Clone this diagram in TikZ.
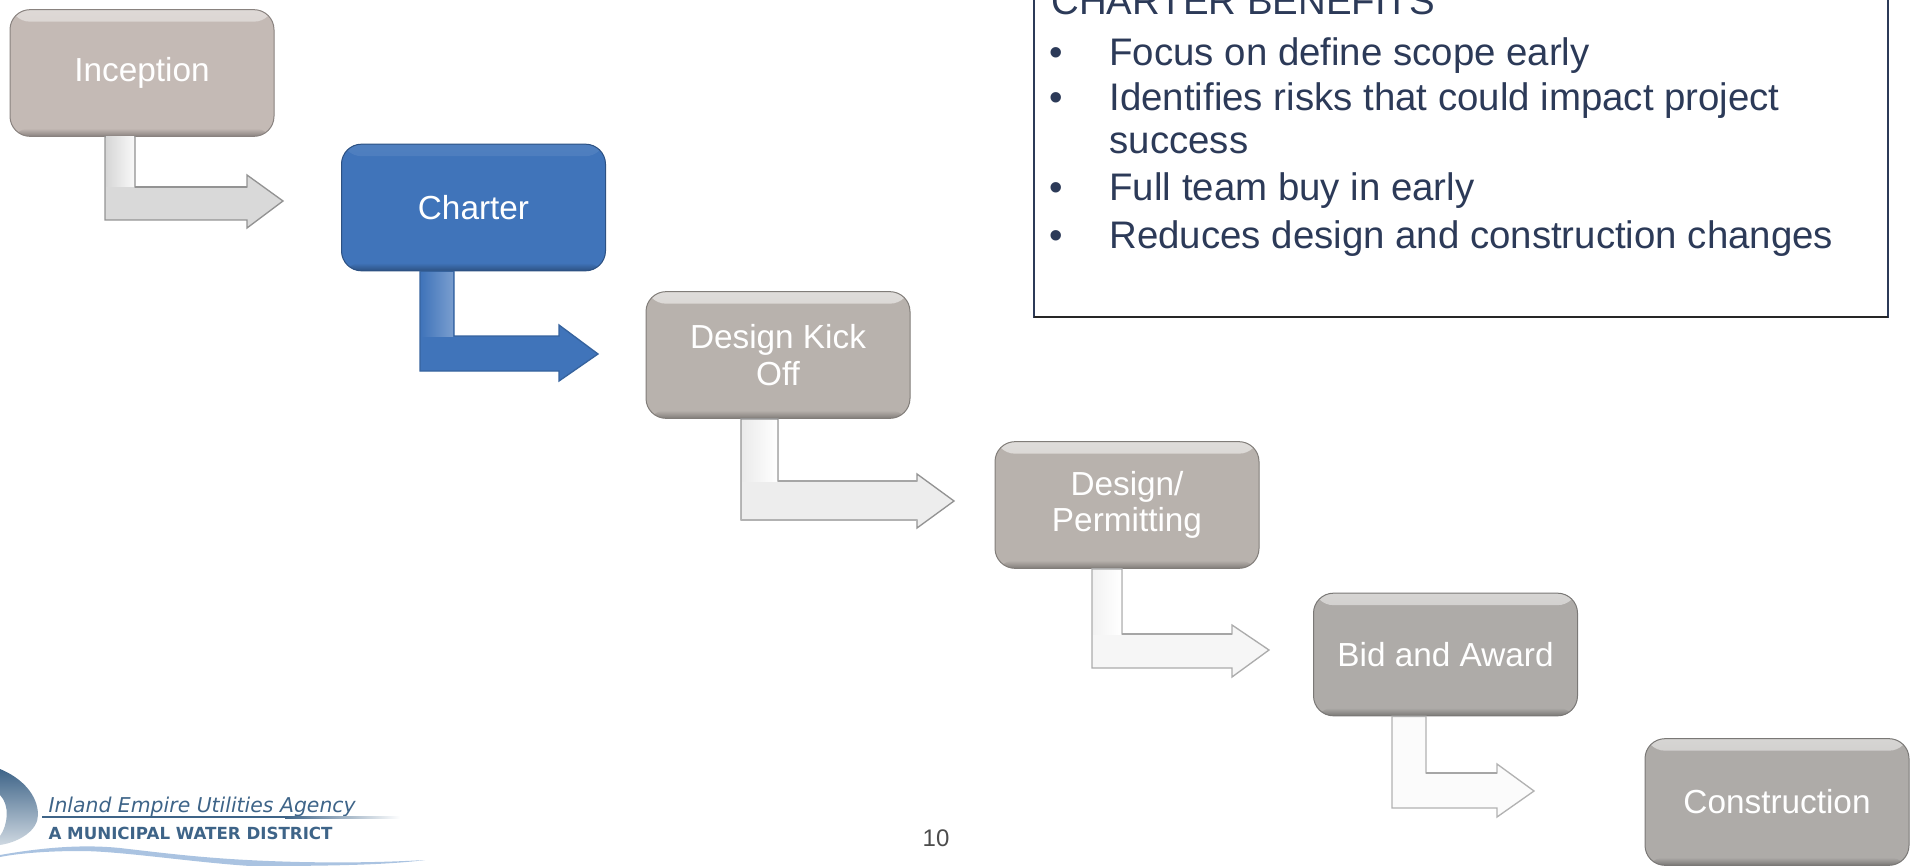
\documentclass[tikz,border=0pt]{standalone}
\usepackage{fontspec}
\setmainfont{Liberation Sans}
\newfontfamily\logofont{DejaVu Sans}
\usetikzlibrary{calc}

\definecolor{stepgrey}{RGB}{196,186,181}
\definecolor{stepgreyb}{RGB}{184,178,173}
\definecolor{stepgreyc}{RGB}{174,171,168}
\definecolor{stepblue}{RGB}{64,116,186}
\definecolor{boxnavy}{RGB}{44,58,88}
\definecolor{logoblue}{RGB}{62,100,136}
\definecolor{swooshblue}{RGB}{170,195,225}

\tikzset{every picture/.style={line width=0.75pt},
  stepbox/.style 2 args={draw=#1!70!black,fill=#1,rounded corners=15pt,minimum width=198pt,minimum height=95pt,
    text=white,font=\fontsize{25}{27.5}\selectfont,align=center,inner sep=0pt,
    path picture={
      \shade [top color=#1!#2!white,bottom color=#1] (path picture bounding box.north west) rectangle ([yshift=-9pt]path picture bounding box.north east);
      \shade [top color=#1,bottom color=#1!70!black] ([yshift=6pt]path picture bounding box.south west) rectangle (path picture bounding box.south east);
    }},
  bentarrow/.style={draw=#1,line width=1pt,line join=miter},
  edgeline/.style={draw=#1,line width=1.5pt},
  benefit/.style={anchor=base west,inner sep=0pt,text=boxnavy,font=\fontsize{28.8}{32}\selectfont},
  logoline/.style={anchor=base west,inner sep=0pt,text=logoblue}}

\begin{document}
\begin{tikzpicture}[x=0.75pt,y=0.75pt,yscale=-1,xscale=1]
\useasboundingbox (0,0) rectangle (1915,866);

% Step boxes
\node [stepbox={stepgrey}{55}] (inception) at (142,73) {Inception};
\node [stepbox={stepblue}{92}] (charter) at (473.5,207.5) {Charter};
\node [stepbox={stepgreyb}{45}] (kickoff) at (778,355) {Design Kick\\Off};
\node [stepbox={stepgreyb}{45}] (permitting) at (1127,505) {Design/\\Permitting};
\node [stepbox={stepgreyc}{50},minimum height=92pt] (bidaward) at (1445.5,654.5) {Bid and Award};
\node [stepbox={stepgreyc}{50}] (construction) at (1777,802) {Construction};

% Free ends of the arrows
\coordinate (inceptiontip) at (283,201);
\coordinate (chartertip) at (598,354);
\coordinate (kickofftip) at (954,501);
\coordinate (permittingtip) at (1269,650);
\coordinate (bidawardtip) at (1534,791);

% Bent arrows
\draw [bentarrow=gray!85,fill=gray!30] (inception.south -| 105,0) -- (inception.south -| 135,0) -- (135,187) -- (247,187) -- (247,175) -- (inceptiontip) -- (247,228) -- (247,220) -- (105,220) -- cycle;
\shade [left color=gray!32,right color=gray!5] (106,137) rectangle (134,187);
\draw [edgeline=gray!85] (135,187) -- (247,187);

\draw [bentarrow=stepblue!85!black,fill=stepblue] (charter.south -| 420,0) -- (charter.south -| 454,0) -- (454,336) -- (559,336) -- (559,325) -- (chartertip) -- (559,381) -- (559,371) -- (420,371) -- cycle;
\shade [left color=stepblue,right color=stepblue!70!white] (421,272) rectangle (453,336);

\draw [bentarrow=gray!85,fill=gray!14] (kickoff.south -| 741,0) -- (kickoff.south -| 778,0) -- (778,481) -- (917,481) -- (917,474) -- (kickofftip) -- (917,528) -- (917,520) -- (741,520) -- cycle;
\shade [left color=gray!16,right color=white] (742,420) rectangle (777,481);
\draw [edgeline=gray!70] (778,481) -- (917,481);
\draw [edgeline=gray!60] (741,520) -- (917,520);

\draw [bentarrow=gray!65,fill=gray!7] (permitting.south -| 1092,0) -- (permitting.south -| 1122,0) -- (1122,634) -- (1232,634) -- (1232,625) -- (permittingtip) -- (1232,677) -- (1232,668) -- (1092,668) -- cycle;
\shade [left color=gray!10,right color=white] (1093,570) rectangle (1121,634);
\draw [edgeline=gray!70] (1122,634) -- (1232,634);

\draw [bentarrow=gray!60,fill=gray!3] (bidaward.south -| 1392,0) -- (bidaward.south -| 1426,0) -- (1426,773) -- (1497,773) -- (1497,764) -- (bidawardtip) -- (1497,817) -- (1497,808) -- (1392,808) -- cycle;
\draw [edgeline=gray!70] (1426,773) -- (1497,773);

% Benefits box
\coordinate (boxtopleft) at (1034,-10);
\coordinate (boxbottomright) at (1888,317);
\draw [color=boxnavy,line width=1.2pt] (boxtopleft) -- (boxtopleft |- boxbottomright) -- (boxbottomright) -- (boxbottomright |- boxtopleft);
\draw [color=black!85,line width=2pt] (boxtopleft |- boxbottomright) -- (boxbottomright);

% Text Node
\node [benefit] (benefitshead) at (1051,15) {CHARTER BENEFITS};
% Text Node
\node [benefit] (bulletone) at (1049,66) {\textbullet};
\node [benefit] (lineone) at (1109,66) {Focus on define scope early};
% Text Node
\node [benefit] (bullettwo) at (1049,111) {\textbullet};
\node [benefit] (linetwo) at (1109,111) {Identifies risks that could impact project};
\node [benefit] (linetwob) at (1109,154) {success};
% Text Node
\node [benefit] (bulletthree) at (1049,201) {\textbullet};
\node [benefit] (linethree) at (1109,201) {Full team buy in early};
% Text Node
\node [benefit] (bulletfour) at (1049,248) {\textbullet};
\node [benefit] (linefour) at (1109,248) {Reduces design and construction changes};

% Page number
\node [anchor=base,inner sep=0pt,text=black!70,font=\fontsize{18}{22}\selectfont] (pagenumber) at (936,846) {10};

% Logo
\shade [top color=logoblue,bottom color=logoblue!25!white] (0,769) .. controls (22,778) and (38,795) .. (38,815) .. controls (38,830) and (20,842) .. (0,845) -- (0,836) .. controls (8,825) and (10,805) .. (0,795) -- cycle;
\fill [swooshblue] (0,855) .. controls (40,848) and (80,844) .. (120,848) .. controls (180,855) and (220,860) .. (300,862) .. controls (350,863) and (390,862) .. (425,860) .. controls (380,866) and (300,866) .. (250,866) .. controls (190,862) and (120,851) .. (80,851) .. controls (50,851) and (20,853) .. (0,857) -- cycle;
\node [logoline,font=\logofont\itshape\fontsize{15.3}{18}\selectfont] (logoname) at (48,812) {Inland Empire Utilities Agency};
\node [logoline,font=\logofont\bfseries\fontsize{12.5}{15}\selectfont] (logosub) at (48,839) {A MUNICIPAL WATER DISTRICT};
\coordinate (rulestart) at (42,817);
\coordinate (ruleend) at (285,817);
\draw [color=logoblue,line width=1.5pt] (rulestart) -- (ruleend);
\shade [left color=logoblue,right color=white] (285,816) rectangle (400,818);
\end{tikzpicture}
\end{document}
